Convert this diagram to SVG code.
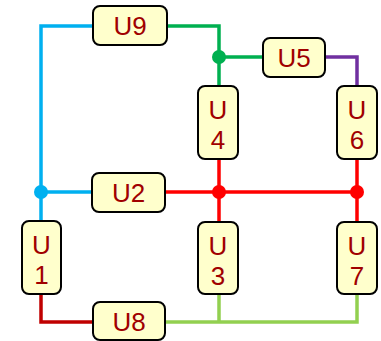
<svg xmlns="http://www.w3.org/2000/svg" width="381" height="341" viewBox="0 0 381 341">
<style>
.box{fill:#ffffcc;stroke:#000;stroke-width:2}
.t{font-family:"Liberation Sans",Arial,sans-serif;font-size:26px;fill:#a00000;text-anchor:middle}
.w{fill:none;stroke-width:3.5;stroke-linejoin:miter}
</style>
<rect width="381" height="341" fill="#fff"/>
<g id="connectors">
<path class="w" stroke="#00b0f0" d="M93,26 H41 V221 M41,192 H92"/>
<circle cx="41" cy="192" r="7" fill="#00b0f0"/>
<path class="w" stroke="#00b050" d="M167,26 H219 V86 M219,57 H263"/>
<circle cx="219" cy="57" r="7" fill="#00b050"/>
<path class="w" stroke="#7030a0" d="M325,57 H357 V86"/>
<path class="w" stroke="#ff0000" d="M165,192 H357 M219,159 V222 M357,159 V222"/>
<circle cx="219" cy="192" r="7" fill="#ff0000"/>
<circle cx="357" cy="192" r="7" fill="#ff0000"/>
<path class="w" stroke="#c00000" d="M41,294 V322 H93"/>
<path class="w" stroke="#92d050" d="M165,322 H357 V294 M219,294 V322"/>
</g>
<g id="U9"><rect class="box" x="93" y="6" width="74" height="39" rx="7"/><text class="t" x="130" y="35">U9</text></g>
<g id="U5"><rect class="box" x="263" y="38" width="62" height="39" rx="7"/><text class="t" x="294" y="67">U5</text></g>
<g id="U4"><rect class="box" x="198" y="86" width="40" height="73" rx="7"/><text class="t" x="218" y="119">U</text><text class="t" x="218" y="149">4</text></g>
<g id="U6"><rect class="box" x="337" y="86" width="40" height="73" rx="7"/><text class="t" x="357" y="119">U</text><text class="t" x="357" y="149">6</text></g>
<g id="U2"><rect class="box" x="92" y="173" width="73" height="39" rx="7"/><text class="t" x="128.5" y="202">U2</text></g>
<g id="U1"><rect class="box" x="22" y="221" width="39" height="73" rx="7"/><text class="t" x="41.5" y="254">U</text><text class="t" x="41.5" y="284">1</text></g>
<g id="U3"><rect class="box" x="198" y="222" width="40" height="72" rx="7"/><text class="t" x="218" y="255">U</text><text class="t" x="218" y="285">3</text></g>
<g id="U7"><rect class="box" x="337" y="222" width="40" height="72" rx="7"/><text class="t" x="357" y="255">U</text><text class="t" x="357" y="285">7</text></g>
<g id="U8"><rect class="box" x="93" y="302" width="72" height="38" rx="7"/><text class="t" x="129" y="331">U8</text></g>
</svg>
